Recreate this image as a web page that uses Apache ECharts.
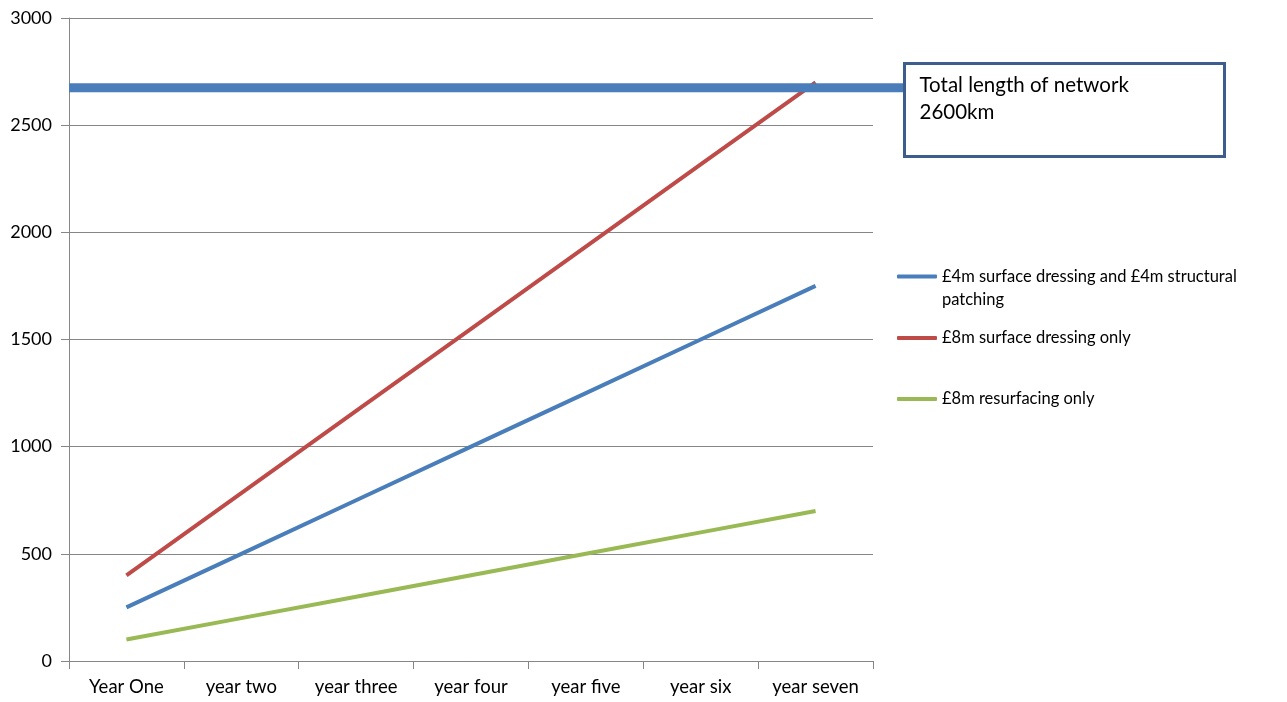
<!DOCTYPE html>
<html>
<head>
<meta charset="utf-8">
<script src="https://cdn.jsdelivr.net/npm/echarts@6/dist/echarts.min.js"></script>
<style>
html,body{margin:0;padding:0;background:#fff;}
#chart{width:1287px;height:702px;}
</style>
</head>
<body>
<div id="chart"></div>
<script>
const categories = ['Year One','year two','year three','year four','year five','year six','year seven'];
const seriesNames = ['£4m surface dressing and £4m structural patching','£8m surface dressing only','£8m resurfacing only'];
const mixedValues = [250, 500, 750, 1000, 1250, 1500, 1750];
const surfaceDressingValues = [400, 783, 1167, 1550, 1933, 2317, 2700];
const resurfacingValues = [100, 200, 300, 400, 500, 600, 700];
const networkLength = 2675;
const networkLabel = ['Total length of network', '2600km'];
const yTicks = {min: 0, max: 3000, interval: 500};

const colors = ['#4A7EBB', '#BE4B48', '#98B954'];
const FONT = 'Lato';
const chart = echarts.init(document.getElementById('chart'));

function legendFor(i, top, extra) {
  return Object.assign({
    data: [seriesNames[i]],
    left: 897, top: top, padding: 0,
    itemWidth: 40, itemHeight: 4, itemGap: 0,
    icon: 'roundRect',
    itemStyle: {color: colors[i], borderWidth: 0},
    textStyle: {fontFamily: FONT, fontSize: 16.5, color: '#000', lineHeight: 22},
    selectedMode: false
  }, extra || {});
}

chart.setOption({
  animation: false,
  color: colors,
  grid: [
    {left: 69, top: 18, width: 804, height: 643},
    {left: 69, top: 18, width: 834, height: 643}
  ],
  xAxis: [
    {
      type: 'category', data: categories, gridIndex: 0, boundaryGap: true,
      axisLine: {lineStyle: {color: '#868686', width: 1}},
      axisTick: {show: true, length: 8, alignWithLabel: false, lineStyle: {color: '#868686'}},
      axisLabel: {fontFamily: FONT, fontSize: 18.5, color: '#000', margin: 17},
      splitLine: {show: false}
    },
    {type: 'value', gridIndex: 1, min: 0, max: 1, show: false}
  ],
  yAxis: [
    {
      type: 'value', gridIndex: 0, min: yTicks.min, max: yTicks.max, interval: yTicks.interval,
      axisLine: {show: true, lineStyle: {color: '#868686', width: 1}},
      axisTick: {show: true, length: 8, lineStyle: {color: '#868686'}},
      axisLabel: {fontFamily: FONT, fontSize: 18, color: '#000', margin: 17, formatter: v => String(v)},
      splitLine: {show: true, lineStyle: {color: '#868686', width: 1}}
    },
    {type: 'value', gridIndex: 1, min: yTicks.min, max: yTicks.max, show: false}
  ],
  legend: [
    legendFor(0, 242, {
      formatter: () => ' \n£4m surface dressing and £4m structural\npatching',
      textStyle: {fontFamily: FONT, fontSize: 16.5, color: '#000', lineHeight: 23}
    }),
    legendFor(1, 327),
    legendFor(2, 388)
  ],
  series: [
    {name: seriesNames[0], type: 'line', data: mixedValues, symbol: 'none', lineStyle: {width: 4, color: colors[0]}, itemStyle: {color: colors[0]}, z: 3},
    {name: seriesNames[1], type: 'line', data: surfaceDressingValues, symbol: 'none', lineStyle: {width: 4, color: colors[1]}, itemStyle: {color: colors[1]}, z: 3},
    {name: seriesNames[2], type: 'line', data: resurfacingValues, symbol: 'none', lineStyle: {width: 4, color: colors[2]}, itemStyle: {color: colors[2]}, z: 3},
    {name: 'network', type: 'line', xAxisIndex: 1, yAxisIndex: 1, data: [[0, networkLength], [1, networkLength]], symbol: 'none', lineStyle: {width: 9, color: colors[0]}, z: 5, silent: true}
  ],
  graphic: [
    {
      type: 'group', left: 903, top: 62, z: 100,
      children: [
        {type: 'rect', shape: {x: 0, y: 0, width: 320, height: 93}, style: {fill: '#fff', stroke: '#3D5D8C', lineWidth: 3}},
        {type: 'text', x: 15, y: 8, style: {text: networkLabel.join('\n'), fontFamily: FONT, fontSize: 20.5, lineHeight: 27, fill: '#000'}}
      ]
    }
  ]
});
</script>
</body>
</html>
